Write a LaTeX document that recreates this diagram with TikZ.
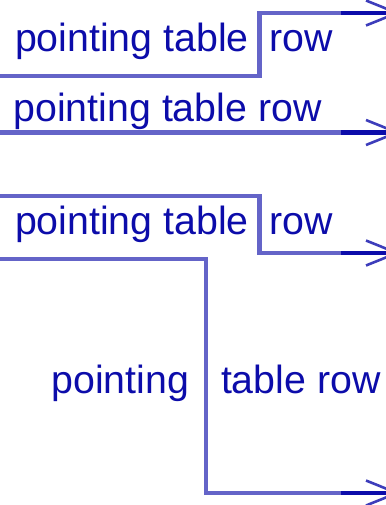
\documentclass[tikz,border=0pt]{standalone}
\usepackage{fontspec}
\setmainfont{Liberation Sans}
\definecolor{txtblue}{RGB}{12,12,170}
\definecolor{linelight}{RGB}{100,100,200}
\definecolor{linedark}{RGB}{12,12,170}
\begin{document}
\begin{tikzpicture}[x=1pt,y=-1pt,
  lbl/.style={anchor=base west,inner sep=0pt,outer sep=0pt,text=txtblue,font=\fontsize{39.3}{47}\selectfont},
  track/.style={draw=linelight,line width=4.6pt,line join=miter},
  tail/.style={draw=linedark,line width=4.6pt},
  prong/.style={draw=linedark!80!white,line width=2.6pt}]
\useasboundingbox (0,0) rectangle (385,505);
% ---------- diagram 1 ----------
\node[lbl] (t1a) at (15,51.5) {pointing table};
\node[lbl] (t1b) at (269.5,51.5) {row};
\coordinate (a0) at (-5,76);
\coordinate (a1) at (259.5,76);
\coordinate (a2) at (259.5,13);
\coordinate (a3) at (341,13);
\coordinate (a4) at (392,13);
\draw[track] (a0) -- (a1) -- (a2) -- (a3);
\draw[tail] (a3) -- (a4);
\draw[prong] (366,0.5) -- (397,13) -- (366,25.5);
% ---------- diagram 2 ----------
\node[lbl] (t2) at (13.5,121.5) {pointing table row};
\coordinate (b0) at (-5,132.5);
\coordinate (b1) at (341,132.5);
\coordinate (b2) at (392,132.5);
\draw[track] (b0) -- (b1);
\draw[tail] (b1) -- (b2);
\draw[prong] (366,120) -- (397,132.5) -- (366,145);
% ---------- diagram 3 ----------
\node[lbl] (t3a) at (15,234) {pointing table};
\node[lbl] (t3b) at (269.5,234) {row};
\coordinate (c0) at (-5,196);
\coordinate (c1) at (259.5,196);
\coordinate (c2) at (259.5,253);
\coordinate (c3) at (341,253);
\coordinate (c4) at (392,253);
\draw[track] (c0) -- (c1) -- (c2) -- (c3);
\draw[tail] (c3) -- (c4);
\draw[prong] (366,240.5) -- (397,253) -- (366,265.5);
\node[lbl] (t4a) at (51.5,393) {pointing};
\node[lbl] (t4b) at (221,393) {table row};
\coordinate (d0) at (-5,259);
\coordinate (d1) at (206,259);
\coordinate (d2) at (206,493);
\coordinate (d3) at (341,493);
\coordinate (d4) at (392,493);
\draw[track] (d0) -- (d1) -- (d2) -- (d3);
\draw[tail] (d3) -- (d4);
\draw[prong] (366,480.5) -- (397,493) -- (366,505.5);
\end{tikzpicture}
\end{document}
